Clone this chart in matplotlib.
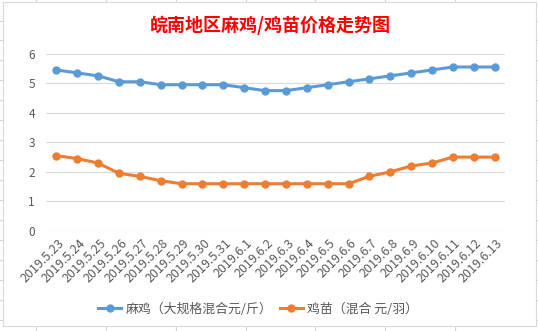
import matplotlib
matplotlib.use("Agg")
import matplotlib.pyplot as plt
import matplotlib.transforms as mtrans
from matplotlib.patches import Rectangle
from matplotlib.lines import Line2D

plt.rcParams['font.family'] = ['Noto Sans CJK SC', 'DejaVu Sans']

# 数据
dates = ['2019.5.23', '2019.5.24', '2019.5.25', '2019.5.26', '2019.5.27', '2019.5.28',
         '2019.5.29', '2019.5.30', '2019.5.31', '2019.6.1', '2019.6.2', '2019.6.3',
         '2019.6.4', '2019.6.5', '2019.6.6', '2019.6.7', '2019.6.8', '2019.6.9',
         '2019.6.10', '2019.6.11', '2019.6.12', '2019.6.13']
maji = [5.45, 5.35, 5.25, 5.05, 5.05, 4.95, 4.95, 4.95, 4.95, 4.85, 4.75,
        4.75, 4.85, 4.95, 5.05, 5.15, 5.25, 5.35, 5.45, 5.55, 5.55, 5.55]
jimiao = [2.55, 2.45, 2.3, 1.95, 1.85, 1.7, 1.6, 1.6, 1.6, 1.6, 1.6,
          1.6, 1.6, 1.6, 1.6, 1.85, 2.0, 2.2, 2.3, 2.5, 2.5, 2.5]
yticks = [0, 1, 2, 3, 4, 5, 6]

W, H = 538, 331
fig = plt.figure(figsize=(W / 100, H / 100), dpi=100)
fig.patch.set_facecolor('white')

# 表格背景的格线
grid_c = '#D4D4D4'
for x in [36, 106, 176, 246, 315, 385, 455]:
    fig.add_artist(Line2D([x / W, x / W], [1 - 2 / H, 1], color=grid_c, lw=0.8, zorder=-2))
    fig.add_artist(Line2D([x / W, x / W], [0, 1 - 327 / H], color=grid_c, lw=0.8, zorder=-2))
for y in [21, 40, 60, 80, 100, 120, 140, 160, 180, 200, 220, 240, 260, 280, 300, 320]:
    fig.add_artist(Line2D([0, 3 / W], [1 - y / H, 1 - y / H], color=grid_c, lw=0.8, zorder=-2))
    fig.add_artist(Line2D([536 / W, 1], [1 - y / H, 1 - y / H], color=grid_c, lw=0.8, zorder=-2))
fig.add_artist(Rectangle((3 / W, 1 - 326 / H), 533 / W, 324 / H, transform=fig.transFigure,
                         facecolor='white', edgecolor='#D9D9D9', lw=0.8, zorder=-1))

ax = fig.add_axes([46 / W, 1 - 231 / H, 459 / W, (231 - 53.7) / H])
ax.patch.set_alpha(0)
x = list(range(len(dates)))
ax.plot(x, maji, color='#5B9BD5', lw=2.2, marker='o', ms=5, label='麻鸡（大规格混合元/斤）')
ax.plot(x, jimiao, color='#ED7D31', lw=2.2, marker='o', ms=5, label='鸡苗（混合 元/羽）')

ax.set_xlim(-0.5, len(dates) - 0.5)
ax.set_ylim(0, 6)
ax.set_yticks(yticks)
ax.yaxis.grid(True, color='#D9D9D9', lw=0.8)
ax.set_axisbelow(True)
for s in ax.spines.values():
    s.set_visible(False)
ax.tick_params(axis='both', length=0, colors='#595959', labelsize=8.5)
ax.tick_params(axis='y', pad=8)
ax.set_xticks(x)
ax.set_xticklabels(dates, rotation=45, ha='right', va='center', rotation_mode='anchor', fontsize=9)
off = mtrans.ScaledTranslation(6 / 100, -5 / 100, fig.dpi_scale_trans)
for lab in ax.get_xticklabels():
    lab.set_transform(lab.get_transform() + off)

fig.text(270 / W, 1 - 25 / H, '皖南地区麻鸡/鸡苗价格走势图', ha='center', va='center',
         color='red', fontsize=13, fontweight='bold')

leg = ax.legend(loc='center', bbox_to_anchor=(258 / W, 1 - 309 / H), bbox_transform=fig.transFigure,
                ncol=2, frameon=False, fontsize=9.3, handlelength=1.8, handletextpad=0.3,
                columnspacing=0.6, labelcolor='#595959')

plt.savefig('out.png', dpi=100)
